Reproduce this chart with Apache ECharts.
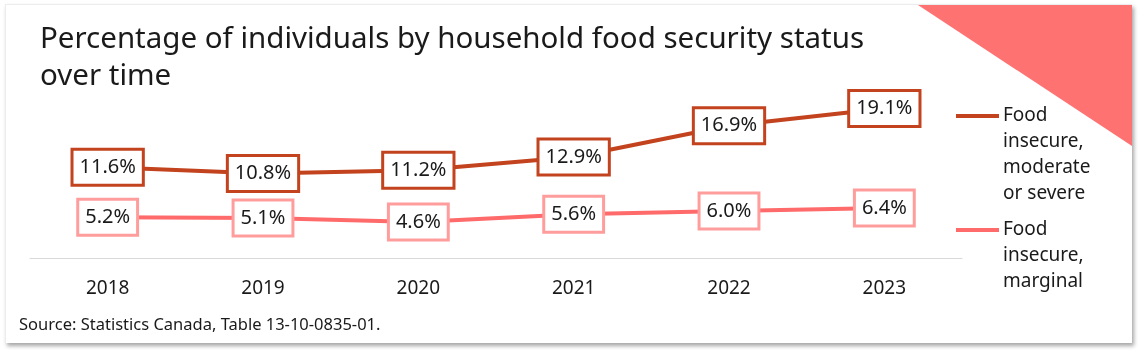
<!DOCTYPE html>
<html>
<head>
<meta charset="utf-8">
<script src="https://cdn.jsdelivr.net/npm/echarts@6/dist/echarts.min.js"></script>
<style>
  html, body { margin: 0; padding: 0; background: #fff; }
  #wrap { position: relative; width: 1140px; height: 350px; overflow: hidden; }
  .card {
    position: absolute; left: 5px; top: 4px; width: 1126px; height: 338px;
    background: #fff; border-top: 1px solid #ececec; border-left: 1px solid #ececec;
    box-shadow: 2px 3px 4px rgba(0,0,0,0.35); overflow: hidden;
  }
  .corner {
    position: absolute; right: 0; top: 0; width: 214px; height: 141px;
    background: #ff7272; clip-path: polygon(0 0, 100% 0, 100% 100%);
  }
  #chart { position: absolute; left: 0; top: 0; width: 1140px; height: 350px; }
</style>
</head>
<body>
<div id="wrap">
  <div class="card"><div class="corner"></div></div>
  <div id="chart"></div>
</div>
<script>
// 数据
const years = ['2018', '2019', '2020', '2021', '2022', '2023'];
const seriesNames = ['Food insecure, moderate or severe', 'Food insecure, marginal'];
const legendLines = [['Food', 'insecure,', 'moderate', 'or severe'], ['Food', 'insecure,', 'marginal']];
const moderateSevere = [11.6, 10.8, 11.2, 12.9, 16.9, 19.1];
const marginal = [5.2, 5.1, 4.6, 5.6, 6.0, 6.4];

const FONT = '"Noto Sans", "Open Sans", sans-serif';
const darkRed = '#c2431e';
const pink = '#ff6b6b';
const pinkBorder = '#ff9c9c';

function boxLabel(border) {
  return {
    show: true,
    position: 'inside',
    formatter: p => p.value.toFixed(1) + '%',
    fontFamily: FONT,
    fontSize: 20,
    lineHeight: 23,
    color: '#1a1a1a',
    backgroundColor: '#fff',
    borderColor: border,
    borderWidth: 3,
    padding: [5, 6],
  };
}

const chart = echarts.init(document.getElementById('chart'));

// 图例（手绘，首行与线段对齐）
const legendColors = [darkRed, pink];
const legendTops = [116, 230];
const graphic = [];
seriesNames.forEach((name, i) => {
  graphic.push({
    type: 'line',
    shape: { x1: 956, y1: legendTops[i], x2: 999, y2: legendTops[i] },
    style: { stroke: legendColors[i], lineWidth: 4 },
  });
  graphic.push({
    type: 'text',
    x: 1003,
    y: legendTops[i] - 13,
    style: {
      text: legendLines[i].join('\n'),
      fontFamily: FONT,
      fontSize: 19,
      lineHeight: 26,
      fill: '#1a1a1a',
      verticalAlign: 'top',
    },
  });
});

chart.setOption({
  backgroundColor: 'transparent',
  animation: false,
  title: [
    {
      text: 'Percentage of individuals by household food security status\nover time',
      left: 35,
      top: 16,
      textStyle: { fontFamily: FONT, fontSize: 29.5, fontWeight: 'normal', lineHeight: 37, color: '#1a1a1a' },
    },
    {
      text: 'Source: Statistics Canada, Table 13-10-0835-01.',
      left: 14,
      top: 312,
      textStyle: { fontFamily: FONT, fontSize: 16.5, fontWeight: 'normal', color: '#1a1a1a' },
    },
  ],
  grid: { left: 30, right: 178, top: 62.25, bottom: 92 },
  xAxis: {
    type: 'category',
    data: years,
    boundaryGap: true,
    axisLine: { lineStyle: { color: '#d9d9d9', width: 1 } },
    axisTick: { show: false },
    axisLabel: { margin: 21, fontFamily: FONT, fontSize: 19, color: '#1a1a1a' },
  },
  yAxis: { type: 'value', min: 0, max: 25, show: false, splitLine: { show: false } },
  graphic,
  series: [
    {
      name: seriesNames[0],
      type: 'line',
      data: moderateSevere,
      symbol: 'circle',
      symbolSize: 2,
      itemStyle: { color: darkRed },
      lineStyle: { color: darkRed, width: 4 },
      label: boxLabel(darkRed),
      z: 3,
    },
    {
      name: seriesNames[1],
      type: 'line',
      data: marginal,
      symbol: 'circle',
      symbolSize: 2,
      itemStyle: { color: pink },
      lineStyle: { color: pink, width: 4 },
      label: boxLabel(pinkBorder),
      z: 2,
    },
  ],
});
</script>
</body>
</html>
